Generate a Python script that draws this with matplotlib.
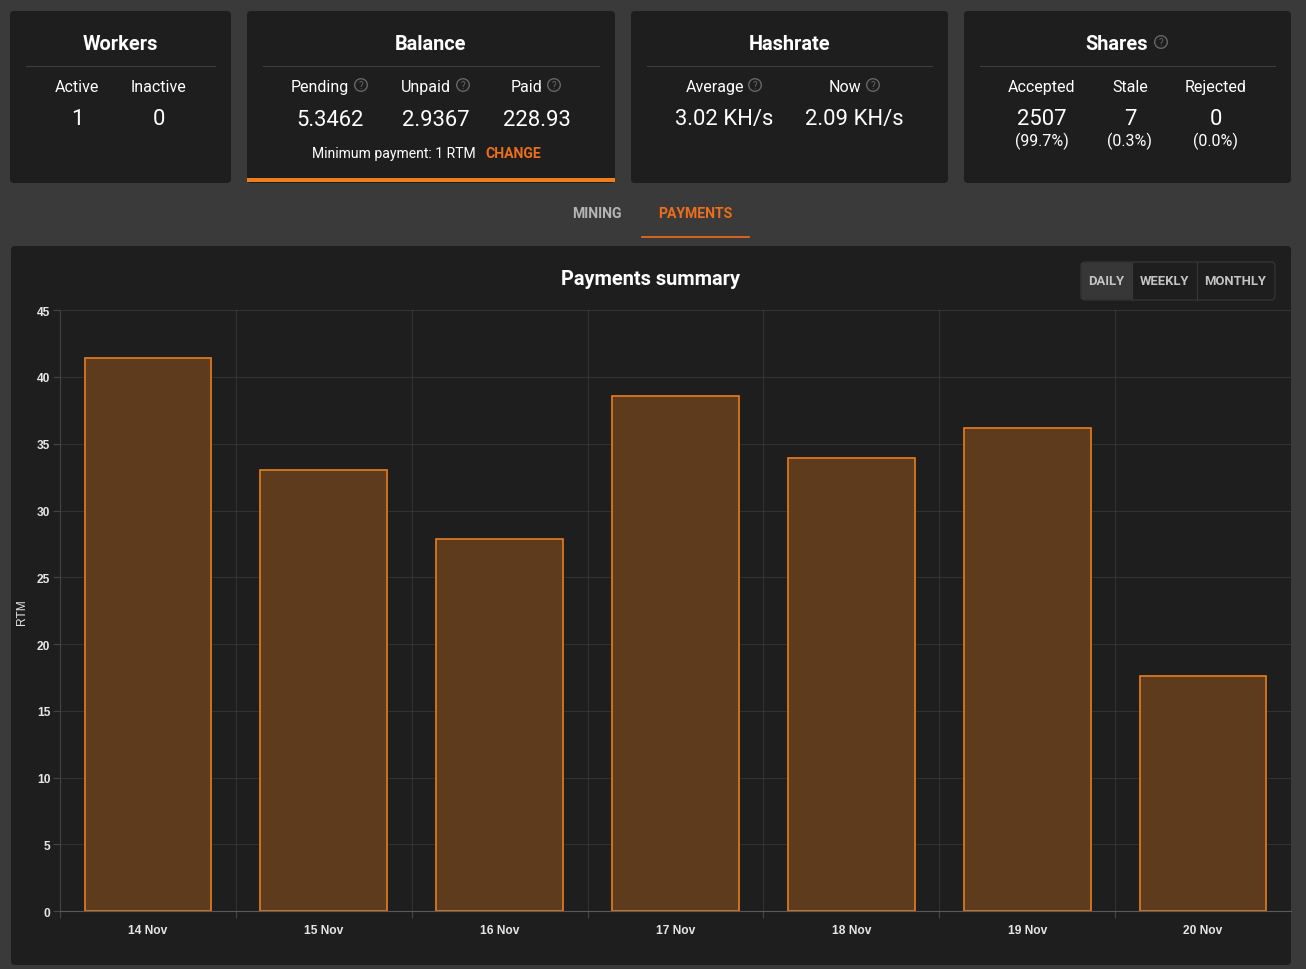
"""
Mining dashboard: stat cards on top, daily payments bar chart below
"""

import matplotlib

matplotlib.use("Agg")
import matplotlib.pyplot as plt
from matplotlib.patches import Circle, FancyBboxPatch, Rectangle

days = ["14 Nov", "15 Nov", "16 Nov", "17 Nov", "18 Nov", "19 Nov", "20 Nov"]
payments = [41.4, 33.0, 27.9, 38.6, 33.9, 36.2, 17.6]
y_ticks = [0, 5, 10, 15, 20, 25, 30, 35, 40, 45]

worker_labels = ["Active", "Inactive"]
worker_values = ["1", "0"]
balance_labels = ["Pending", "Unpaid", "Paid"]
balance_values = ["5.3462", "2.9367", "228.93"]
hashrate_labels = ["Average", "Now"]
hashrate_values = ["3.02 KH/s", "2.09 KH/s"]
share_labels = ["Accepted", "Stale", "Rejected"]
share_values = ["2507", "7", "0"]
share_pcts = ["(99.7%)", "(0.3%)", "(0.0%)"]

W, H = 1306, 970
BG = "#3a3a3a"
CARD = "#1e1e1e"
ORANGE = "#f07f1a"
TAB_ORANGE = "#ee6e1c"
PX = 0.72  # css px to points at dpi 100

plt.rcParams["font.family"] = ["Roboto", "DejaVu Sans"]

fig = plt.figure(figsize=(W / 100, H / 100), dpi=100, facecolor=BG)

# full figure axes in pixel coordinates for the page furniture
page = fig.add_axes([0, 0, 1, 1], zorder=0)
page.set_xlim(0, W)
page.set_ylim(H - 1, -1)
page.axis("off")


def card(x0, y0, x1, y1):
    page.add_patch(
        FancyBboxPatch(
            (x0 + 3, y0 + 3),
            x1 - x0 - 6,
            y1 - y0 - 6,
            boxstyle="round,pad=3,rounding_size=4",
            fc=CARD,
            ec="none",
        )
    )


def label(x, y, s, size=16, color="white", weight="normal", ha="center", **kw):
    page.text(x, y, s, fontsize=size * PX, color=color, weight=weight,
              ha=ha, va="center", **kw)


def help_icon(x, y):
    page.add_patch(Circle((x, y), 6.3, fc="none", ec="#666666", lw=1))
    label(x, y + 0.3, "?", size=10, color="#666666")


def card_title(x0, x1, cx, s):
    label(cx, 43.5, s, size=20, weight="bold")
    page.plot([x0 + 16, x1 - 16], [66, 66], color="#3d3d3d", lw=0.8)


# top cards
card(10, 11, 231, 183)
card_title(10, 231, 120.5, "Workers")
for x, lab, val in zip([77, 158.5], worker_labels, worker_values):
    label(x, 86.5, lab)
    label(x, 118.5, val, size=22)

card(247, 11, 615, 183)
page.add_patch(Rectangle((247, 178), 368, 4, fc=ORANGE, ec="none"))
card_title(247, 615, 431, "Balance")
for x, ix, lab, val, vx in zip([320, 426, 527], [361, 463, 554], balance_labels,
                               balance_values, [330, 436, 536.5]):
    label(x, 86.5, lab)
    help_icon(ix, 85)
    label(vx, 119, val, size=22)
label(393.5, 153, "Minimum payment: 1 RTM", size=14)
label(513, 153, "CHANGE", size=14, color=TAB_ORANGE, weight="bold")

card(631, 11, 948, 183)
card_title(631, 948, 789.5, "Hashrate")
for x, ix, lab, val, vx in zip([714.5, 844.5], [755, 873], hashrate_labels,
                               hashrate_values, [724, 854.5]):
    label(x, 86.5, lab)
    help_icon(ix, 85)
    label(vx, 118.5, val, size=22)

card(964, 11, 1291, 183)
card_title(964, 1291, 1116.5, "Shares")
help_icon(1161, 42)
for x, lab, val, pct in zip([1042, 1130, 1215.5], share_labels, share_values, share_pcts):
    label(x, 86.5, lab)
    label(x, 118.5, val, size=22)
    label(x, 140.5, pct)

# tabs
label(597, 213, "MINING", size=14, color="#b5b5b5", weight="bold")
label(695.5, 213, "PAYMENTS", size=14, color=TAB_ORANGE, weight="bold")
page.plot([642, 749], [237, 237], color=TAB_ORANGE, lw=1.2)

# chart card, title and range buttons
card(11, 246, 1291, 965)
label(650.5, 278.5, "Payments summary", size=20, weight="bold")
page.add_patch(
    FancyBboxPatch((1084, 265), 188, 32, boxstyle="round,pad=3,rounding_size=4",
                   fc=CARD, ec="#383838", lw=0.8)
)
page.add_patch(
    FancyBboxPatch((1083.5, 264.5), 47.5, 33, boxstyle="round,pad=2,rounding_size=3",
                   fc="#373737", ec="none")
)
page.plot([1132, 1132], [262, 300], color="#383838", lw=0.8)
page.plot([1196.5, 1196.5], [262, 300], color="#383838", lw=0.8)
for x, s in zip([1106.5, 1164, 1235.5], ["DAILY", "WEEKLY", "MONTHLY"]):
    label(x, 280.5, s, size=13, color="#c4c4c4", weight="bold")

# the bar chart, axes box placed on the same pixels as the reference
ax = fig.add_axes([60 / W, 1 - 912.2 / H, (1291 - 60) / W, (912 - 311) / H], zorder=1)
ax.patch.set_alpha(0)
xs = list(range(len(days)))
ax.bar(xs, payments, width=0.72, facecolor="#5e3b1c", edgecolor="#e87d1e",
       linewidth=1.2, zorder=3)
ax.set_xlim(-0.5, len(days) - 0.5)
ax.set_ylim(0, 45)
ax.set_yticks(y_ticks)
ax.set_xticks(xs)
ax.set_xticklabels(days)
ax.set_xticks([x - 0.5 for x in xs], minor=True)

ax.grid(axis="y", color="#ffffff", alpha=0.09, lw=0.8, zorder=4)
ax.grid(axis="x", which="minor", color="#ffffff", alpha=0.09, lw=0.8, zorder=1)
ax.grid(axis="x", which="major", visible=False)

for side in ["top", "right"]:
    ax.spines[side].set_visible(False)
ax.spines["left"].set_color("#444444")
ax.spines["bottom"].set_color("#5a5a5a")
for side in ["left", "bottom"]:
    ax.spines[side].set_linewidth(0.8)
    ax.spines[side].set_zorder(5)

ax.tick_params(axis="y", length=5, width=0.8, color="#444444", pad=2)
ax.tick_params(axis="x", which="major", length=0, pad=9)
ax.tick_params(axis="x", which="minor", length=5, width=0.8, color="#444444")
for t in ax.get_xticklabels() + ax.get_yticklabels():
    t.set_family(["Liberation Sans", "DejaVu Sans"])
    t.set_fontsize(12 * PX)
    t.set_weight("bold")
    t.set_color("#e6e6e6")

ax.set_ylabel("RTM", fontsize=12 * PX, color="#e6e6e6",
              family=["Liberation Sans", "DejaVu Sans"])
ax.yaxis.set_label_coords((28.5 - 60) / (1291 - 60), (912 - 612) / (912 - 311))

plt.savefig("out.png", dpi=100, facecolor=BG)
plt.close(fig)
